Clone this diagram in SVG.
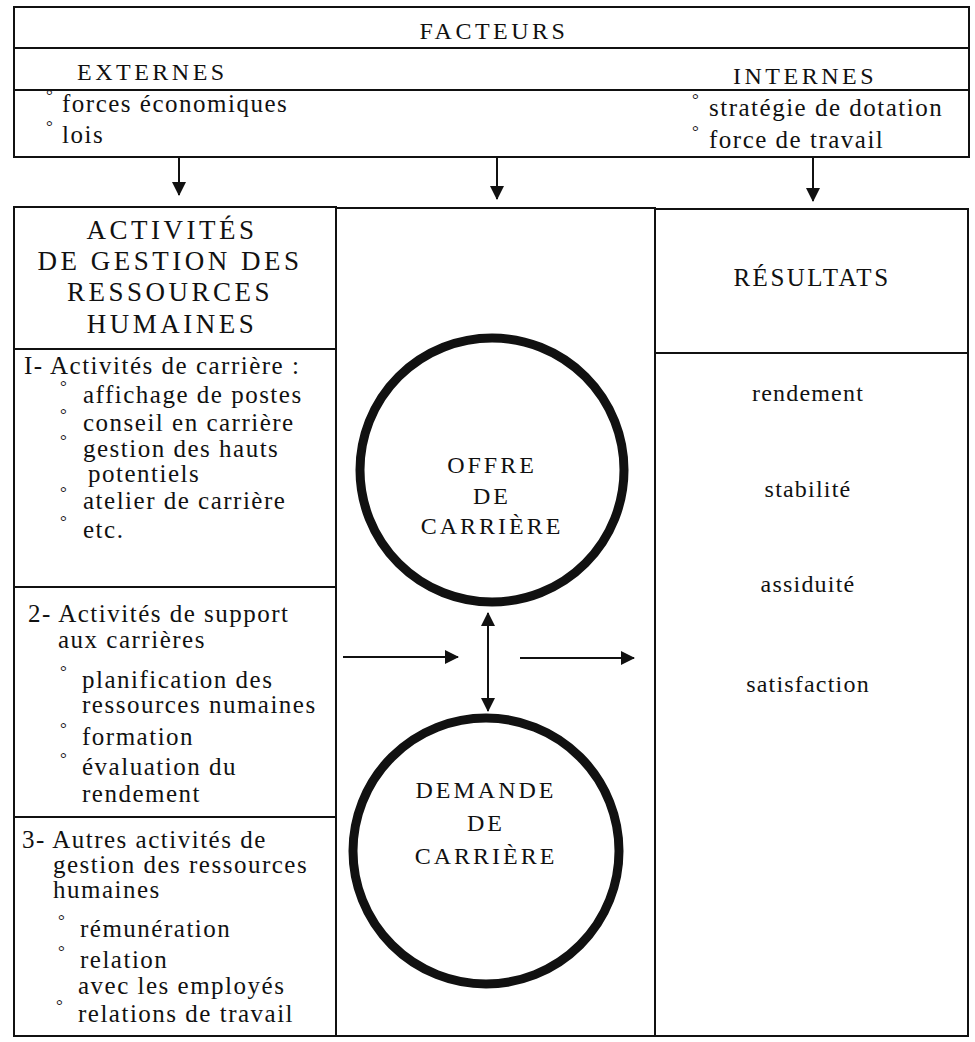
<svg xmlns="http://www.w3.org/2000/svg" width="975" height="1042" viewBox="0 0 975 1042">
<style>
text{font-family:"Liberation Serif","Times New Roman",serif;fill:#111;}
.t{font-size:25px;letter-spacing:1.5px;}
.cap{font-size:24px;letter-spacing:3.5px;}
.h{font-size:27px;letter-spacing:3.5px;text-anchor:middle;}
.cc{font-size:24px;letter-spacing:3px;text-anchor:middle;}
.r{font-size:24px;letter-spacing:1.2px;text-anchor:middle;}
.deg{font-size:17px;}
.b{fill:none;stroke:#111;stroke-width:2;}
.ln{stroke:#111;stroke-width:2;fill:none;}
.ring{fill:none;stroke:#111;stroke-width:9;}
</style>
<defs>
<marker id="ah" viewBox="0 0 14 14" refX="13" refY="7" markerWidth="14" markerHeight="14" markerUnits="userSpaceOnUse" orient="auto-start-reverse">
<path d="M0,0 L14,7 L0,14 z" fill="#111"/>
</marker>
</defs>

<g id="facteurs">
<rect class="b" x="14" y="7" width="955" height="150"/>
<line class="ln" x1="14" y1="48" x2="969" y2="48"/>
<line class="ln" x1="14" y1="90" x2="969" y2="90"/>
<text class="cap" x="494" y="39" text-anchor="middle">FACTEURS</text>
<text class="cap" x="77" y="80">EXTERNES</text>
<text class="cap" x="733" y="84">INTERNES</text>
<text class="deg" x="46" y="101">°</text>
<text class="t" x="62" y="112">forces économiques</text>
<text class="deg" x="46" y="132">°</text>
<text class="t" x="62" y="143">lois</text>
<text class="deg" x="692" y="105">°</text>
<text class="t" x="709" y="116">stratégie de dotation</text>
<text class="deg" x="692" y="137">°</text>
<text class="t" x="709" y="148">force de travail</text>
</g>

<g id="activites">
<rect class="b" x="14" y="207" width="322" height="829"/>
<line class="ln" x1="14" y1="349" x2="336" y2="349"/>
<line class="ln" x1="14" y1="587" x2="336" y2="587"/>
<line class="ln" x1="14" y1="817" x2="336" y2="817"/>
<text class="h" x="172" y="239">ACTIVITÉS</text>
<text class="h" x="170" y="270">DE GESTION DES</text>
<text class="h" x="170" y="301">RESSOURCES</text>
<text class="h" x="172" y="333">HUMAINES</text>

<text class="t" x="24" y="374">I- Activités de carrière :</text>
<text class="deg" x="60" y="392">°</text><text class="t" x="83" y="403">affichage de postes</text>
<text class="deg" x="60" y="420">°</text><text class="t" x="83" y="431">conseil en carrière</text>
<text class="deg" x="60" y="446">°</text><text class="t" x="83" y="457">gestion des hauts</text>
<text class="t" x="88" y="482">potentiels</text>
<text class="deg" x="60" y="498">°</text><text class="t" x="83" y="509">atelier de carrière</text>
<text class="deg" x="60" y="527">°</text><text class="t" x="83" y="538">etc.</text>

<text class="t" x="28" y="622">2- Activités de support</text>
<text class="t" x="58" y="648">aux carrières</text>
<text class="deg" x="60" y="677">°</text><text class="t" x="82" y="688">planification des</text>
<text class="t" x="82" y="713">ressources numaines</text>
<text class="deg" x="60" y="734">°</text><text class="t" x="82" y="745">formation</text>
<text class="deg" x="60" y="764">°</text><text class="t" x="82" y="775">évaluation du</text>
<text class="t" x="82" y="802">rendement</text>

<text class="t" x="22" y="848">3- Autres activités de</text>
<text class="t" x="53" y="873">gestion des ressources</text>
<text class="t" x="53" y="898">humaines</text>
<text class="deg" x="58" y="926">°</text><text class="t" x="80" y="937">rémunération</text>
<text class="deg" x="58" y="957">°</text><text class="t" x="80" y="968">relation</text>
<text class="t" x="78" y="994">avec les employés</text>
<text class="deg" x="56" y="1011">°</text><text class="t" x="78" y="1022">relations de travail</text>
</g>

<g id="centre">
<rect class="b" x="336" y="208" width="319" height="828"/>
</g>

<g id="offre">
<circle class="ring" cx="492" cy="470" r="132"/>
<text class="cc" x="492" y="473">OFFRE</text>
<text class="cc" x="492" y="504">DE</text>
<text class="cc" x="492" y="534">CARRIÈRE</text>
</g>

<g id="demande">
<circle class="ring" cx="486" cy="851" r="133"/>
<text class="cc" x="486" y="798">DEMANDE</text>
<text class="cc" x="486" y="831">DE</text>
<text class="cc" x="486" y="864">CARRIÈRE</text>
</g>

<g id="resultats">
<rect class="b" x="655" y="209" width="313" height="827"/>
<line class="ln" x1="655" y1="353" x2="968" y2="353"/>
<text class="h" x="812" y="286" style="font-size:25px;letter-spacing:2.5px">RÉSULTATS</text>
<text class="r" x="808" y="401">rendement</text>
<text class="r" x="808" y="497">stabilité</text>
<text class="r" x="808" y="592">assiduité</text>
<text class="r" x="808" y="692">satisfaction</text>
</g>

<g id="connecteurs">
<line class="ln" x1="179" y1="157" x2="179" y2="195" marker-end="url(#ah)"/>
<line class="ln" x1="497" y1="157" x2="497" y2="199" marker-end="url(#ah)"/>
<line class="ln" x1="813" y1="157" x2="813" y2="201" marker-end="url(#ah)"/>
<line class="ln" x1="343" y1="657" x2="458" y2="657" marker-end="url(#ah)"/>
<line class="ln" x1="520" y1="658" x2="634" y2="658" marker-end="url(#ah)"/>
<line class="ln" x1="488" y1="613" x2="488" y2="711" marker-start="url(#ah)" marker-end="url(#ah)"/>
</g>
</svg>
